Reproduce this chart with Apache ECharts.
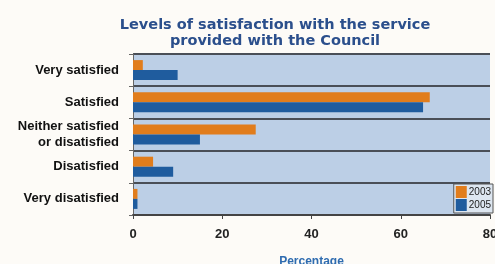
<!DOCTYPE html>
<html>
<head>
<meta charset="utf-8">
<script src="https://cdn.jsdelivr.net/npm/echarts@6/dist/echarts.min.js"></script>
<style>
  html, body { margin: 0; padding: 0; background: #fdfbf7; }
  #chart { width: 495px; height: 264px; }
</style>
</head>
<body>
<div id="chart"></div>
<script>
const categories = [
  "Very satisfied",
  "Satisfied",
  "Neither satisfied\nor disatisfied",
  "Disatisfied",
  "Very disatisfied",
];
const values2003 = [2.2, 66.5, 27.5, 4.5, 1];
const values2005 = [10, 65, 15, 9, 1];
const xTicks = [0, 20, 40, 60, 80];

const chart = echarts.init(document.getElementById("chart"));

chart.setOption({
  animation: false,
  title: {
    text: "Levels of satisfaction with the service\nprovided with the Council",
    left: 270,
    textAlign: "center",
    top: 12,
    textStyle: {
      color: "#2b4f8c",
      fontFamily: "DejaVu Sans",
      fontSize: 14.5,
      fontWeight: "bold",
      lineHeight: 16,
    },
  },
  legend: {
    orient: "vertical",
    right: 2,
    bottom: 51,
    itemWidth: 11,
    itemHeight: 12,
    itemGap: 1,
    padding: [2, 2, 2, 2],
    borderColor: "#555",
    borderWidth: 1,
    backgroundColor: "#dde6f0",
    icon: "rect",
    textStyle: { fontSize: 10, color: "#222", padding: [0, 0, 0, -3] },
    data: ["2003", "2005"],
  },
  grid: {
    left: 133,
    right: 5,
    top: 54,
    bottom: 49,
    outerBoundsMode: "none",
    show: true,
    backgroundColor: "#bccfe6",
    borderColor: "#555",
    borderWidth: 0,
  },
  xAxis: {
    type: "value",
    min: 0,
    max: 80,
    interval: 20,
    name: "Percentage",
    nameLocation: "middle",
    nameGap: 41,
    nameTextStyle: { color: "#2f6cb0", fontSize: 12, fontWeight: "bold" },
    axisLine: { show: true, lineStyle: { color: "#444", width: 2 } },
    axisTick: { show: true, length: 4, lineStyle: { color: "#444" } },
    axisLabel: {
      color: "#222",
      fontSize: 13,
      fontWeight: "bold",
      margin: 13,
      formatter: (v) => (xTicks.includes(v) ? String(v) : ""),
    },
    splitLine: { show: false },
  },
  yAxis: {
    type: "category",
    inverse: true,
    data: categories,
    axisLine: { show: true, lineStyle: { color: "#666", width: 1 } },
    axisTick: { show: true, length: 4, lineStyle: { color: "#666" } },
    axisLabel: {
      color: "#111",
      fontSize: 13,
      fontWeight: "bold",
      lineHeight: 16,
      margin: 14,
    },
    splitLine: { show: true, interval: 0, lineStyle: { color: "#4a4f57", width: 2 } },
  },
  series: [
    {
      name: "2003",
      type: "bar",
      data: values2003,
      barWidth: 10,
      barGap: "0%",
      itemStyle: { color: "#e17d1c" },
    },
    {
      name: "2005",
      type: "bar",
      data: values2005,
      barWidth: 10,
      itemStyle: { color: "#1f5c9e" },
    },
  ],
});
</script>
</body>
</html>
